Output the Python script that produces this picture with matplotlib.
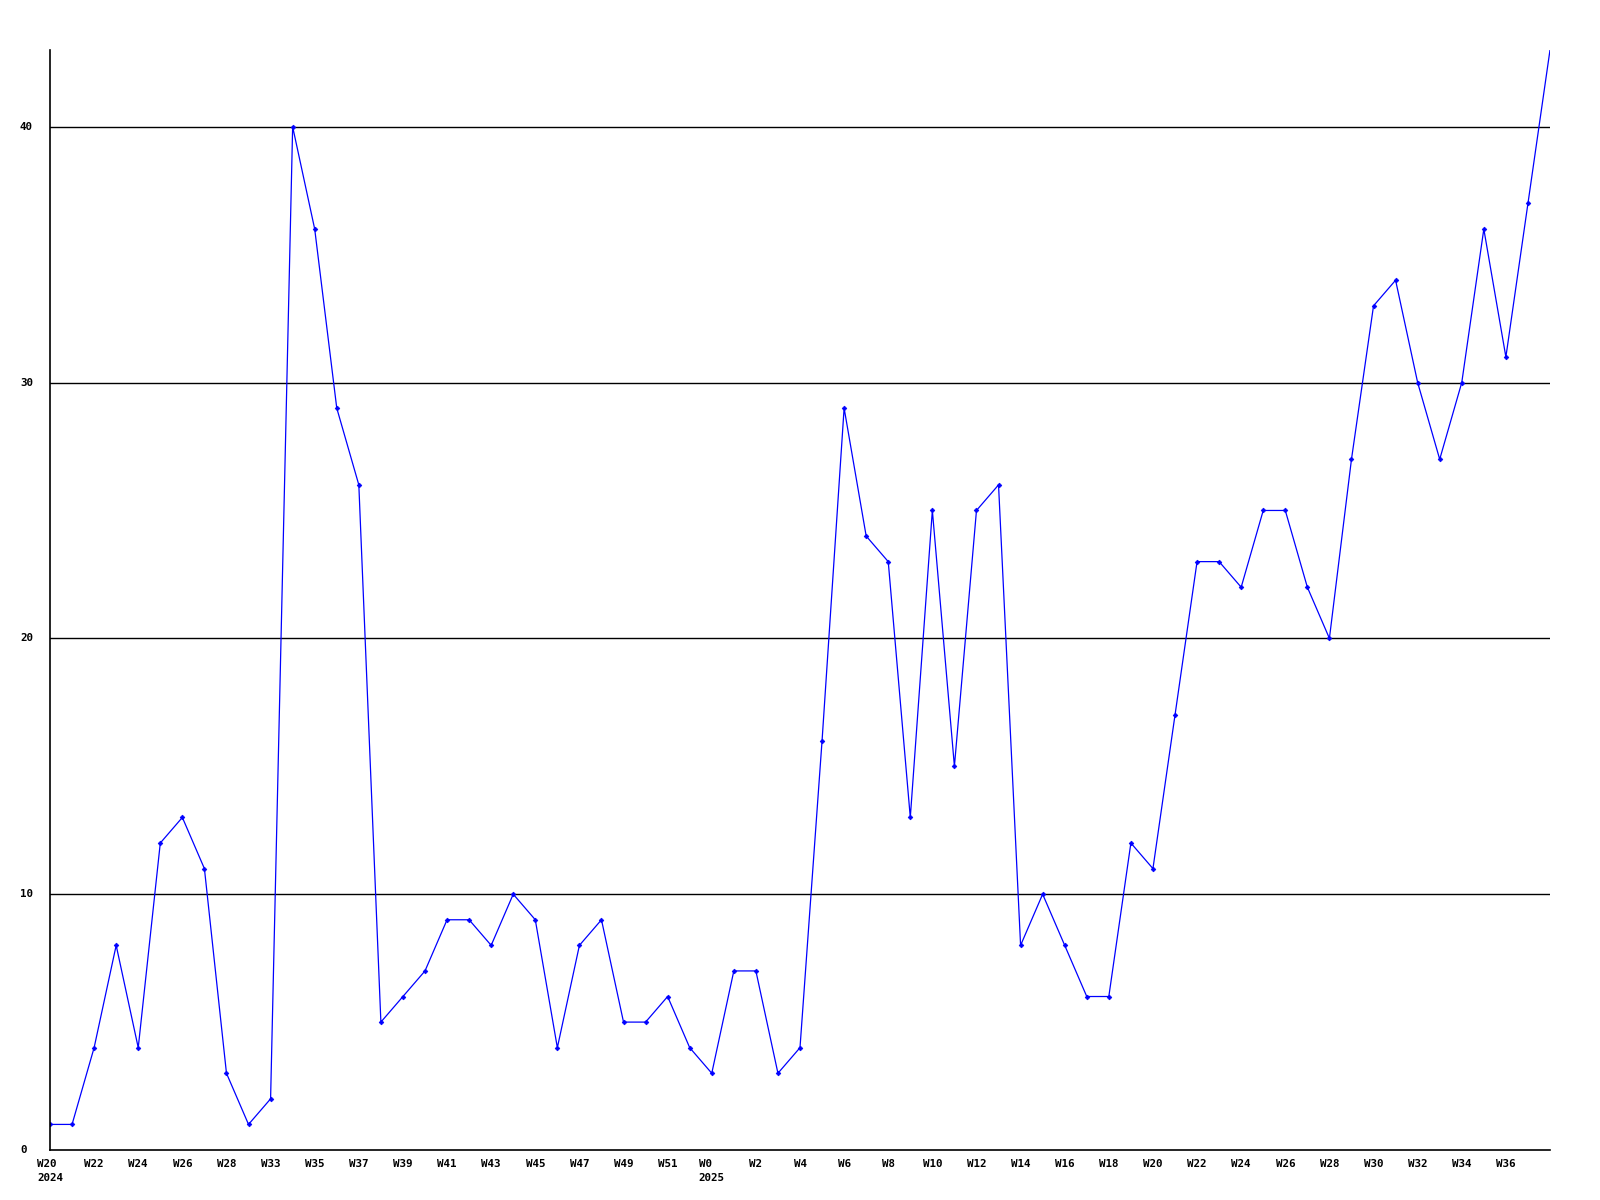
import matplotlib
matplotlib.use("Agg")
import matplotlib.pyplot as plt

weeks = (["W20", "W21", "W22", "W23", "W24", "W25", "W26", "W27", "W28", "W29"]
         + ["W%d" % w for w in range(33, 53)]
         + ["W%d" % w for w in range(0, 39)])
years = {0: "2024", 30: "2025"}
values = [1, 1, 4, 8, 4, 12, 13, 11, 3, 1,
          2, 40, 36, 29, 26, 5, 6, 7, 9, 9,
          8, 10, 9, 4, 8, 9, 5, 5, 6, 4,
          3, 7, 7, 3, 4, 16, 29, 24, 23, 13,
          25, 15, 25, 26, 8, 10, 8, 6, 6, 12,
          11, 17, 23, 23, 22, 25, 25, 22, 20, 27,
          33, 34, 30, 27, 30, 36, 31, 37, 43]
yticks = [0, 10, 20, 30, 40]

fig = plt.figure(figsize=(16, 12), dpi=100)
ax = fig.add_axes([50/1600, 50/1200, 1500/1600, 1100/1200])
x = list(range(len(values)))
ax.plot(x, values, color="#0000ff", lw=0.9, marker="D", markersize=2.4,
        markeredgewidth=0.5, markevery=list(range(len(values) - 1)))
ax.set_xlim(0, len(values) - 1)
ax.set_ylim(0, 43)
for s in ("top", "right"):
    ax.spines[s].set_visible(False)
for s in ("left", "bottom"):
    ax.spines[s].set_linewidth(1.2)
    ax.spines[s].set_color("black")
for v in yticks[1:]:
    ax.axhline(v, color="black", lw=1.0, zorder=0)

font = dict(family="DejaVu Sans Mono", weight="bold", size=7.8)
ax.set_yticks([])
ax.set_xticks([])
for v in yticks:
    ax.text(20/1600, ax.transData.transform((0, v))[1] / 1200, str(v),
            transform=fig.transFigure, ha="left", va="center", **font)
for i in range(0, len(weeks) - 1, 2):
    lab = weeks[i] + ("\n" + years[i] if i in years else "")
    ax.annotate(lab, xy=(i, 0), xytext=(0, -6.5), textcoords="offset points",
                ha="center", va="top", multialignment="left",
                linespacing=1.45, annotation_clip=False, **font)
fig.savefig("out.png", dpi=100)
